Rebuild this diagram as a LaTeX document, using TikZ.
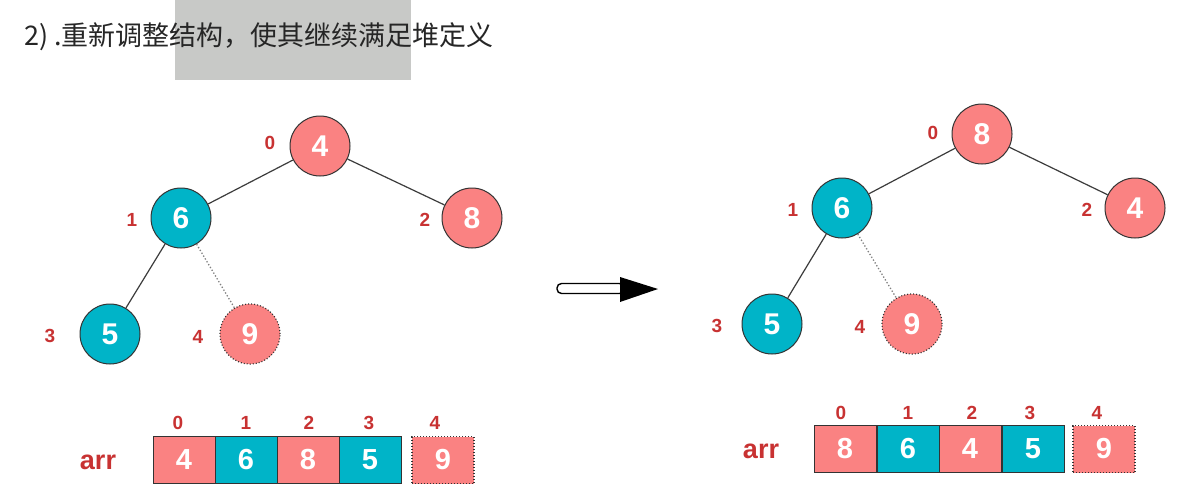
\documentclass[tikz,border=0pt]{standalone}
\usepackage{fontspec}
\setmainfont{Liberation Sans}
\newfontfamily\cjk{Noto Sans CJK SC}
\usetikzlibrary{arrows.meta}
\definecolor{pinkc}{RGB}{250,130,130}
\definecolor{tealc}{RGB}{0,180,200}
\definecolor{labred}{RGB}{200,50,50}
\definecolor{hlgray}{RGB}{200,201,199}
\definecolor{edgec}{RGB}{60,60,60}
\tikzset{
  hnode/.style={circle, minimum size=60pt, inner sep=0pt, draw=black!80, line width=1pt,
    text=white, font=\fontsize{30}{30}\selectfont\bfseries},
  pk/.style={hnode, fill=pinkc},
  tl/.style={hnode, fill=tealc},
  ghost/.style={hnode, fill=pinkc, dotted, line width=1.2pt},
  idx/.style={text=labred, font=\fontsize{19}{19}\selectfont\bfseries, inner sep=0pt},
  cell/.style={minimum width=62pt, minimum height=47pt, inner sep=0pt, draw=black!80, line width=1pt,
    text=white, font=\fontsize{29}{29}\selectfont\bfseries},
  pcell/.style={cell, fill=pinkc},
  tcell/.style={cell, fill=tealc},
  gcell/.style={cell, fill=pinkc, dotted, line width=1.2pt},
  arrlab/.style={text=labred, font=\fontsize{27}{27}\selectfont\bfseries, inner sep=0pt},
  tedge/.style={draw=edgec, line width=1.2pt},
  dedge/.style={draw=gray, dotted, line width=1.3pt}
}
\begin{document}
\begin{tikzpicture}[x=1pt,y=-1pt]
\useasboundingbox (0,0) rectangle (1183,491);
\fill[white] (0,0) rectangle (1183,491);
% title
\fill[hlgray] (175,0) rectangle (411,80);
\node[anchor=west, inner sep=0pt, font=\cjk\fontsize{27}{27}\selectfont, text=black!85] (title) at (24,37) {2) .重新调整结构，使其继续满足堆定义};

% left tree
\node[pk] (L0) at (320,146) {4};
\node[tl] (L1) at (181,218) {6};
\node[pk] (L2) at (472,218) {8};
\node[tl] (L3) at (110,334) {5};
\node[ghost] (L4) at (250,334) {9};
\draw[tedge] (L0) -- (L1);
\draw[tedge] (L0) -- (L2);
\draw[tedge] (L1) -- (L3);
\draw[dedge] (L1) -- (L4);
\node[idx] (Li0) at (270,143) {0};
\node[idx] (Li1) at (132,220) {1};
\node[idx] (Li2) at (425,220) {2};
\node[idx] (Li3) at (50,336) {3};
\node[idx] (Li4) at (198,337) {4};

% left array
\node[arrlab] (Larr) at (98,462) {arr};
\node[pcell] (La0) at (184,460) {4};
\node[tcell] (La1) at (246,460) {6};
\node[pcell] (La2) at (308,460) {8};
\node[tcell] (La3) at (370,460) {5};
\node[gcell] (La4) at (443,460) {9};
\node[idx] (Lai0) at (178,423) {0};
\node[idx] (Lai1) at (246,423) {1};
\node[idx] (Lai2) at (309,423) {2};
\node[idx] (Lai3) at (369,423) {3};
\node[idx] (Lai4) at (435,423) {4};

% transition arrow
\draw[line width=1.4pt, rounded corners=4.5pt, fill=white] (557,283.5) rectangle (624,293.5);
\fill[black] (620,277) -- (658,289) -- (620,302) -- cycle;

% right tree
\node[pk] (R0) at (982,134) {8};
\node[tl] (R1) at (842,208) {6};
\node[pk] (R2) at (1135,208) {4};
\node[tl] (R3) at (772,324) {5};
\node[ghost] (R4) at (912,324) {9};
\draw[tedge] (R0) -- (R1);
\draw[tedge] (R0) -- (R2);
\draw[tedge] (R1) -- (R3);
\draw[dedge] (R1) -- (R4);
\node[idx] (Ri0) at (933,133) {0};
\node[idx] (Ri1) at (793,210) {1};
\node[idx] (Ri2) at (1087,210) {2};
\node[idx] (Ri3) at (717,326) {3};
\node[idx] (Ri4) at (860,327) {4};

% right array
\node[arrlab] (Rarr) at (761,451) {arr};
\node[pcell] (Ra0) at (845,449) {8};
\node[tcell] (Ra1) at (908,449) {6};
\node[pcell] (Ra2) at (970,449) {4};
\node[tcell] (Ra3) at (1033,449) {5};
\node[gcell] (Ra4) at (1104,449) {9};
\node[idx] (Rai0) at (841,413) {0};
\node[idx] (Rai1) at (908,413) {1};
\node[idx] (Rai2) at (972,413) {2};
\node[idx] (Rai3) at (1030,413) {3};
\node[idx] (Rai4) at (1097,413) {4};
\end{tikzpicture}
\end{document}
